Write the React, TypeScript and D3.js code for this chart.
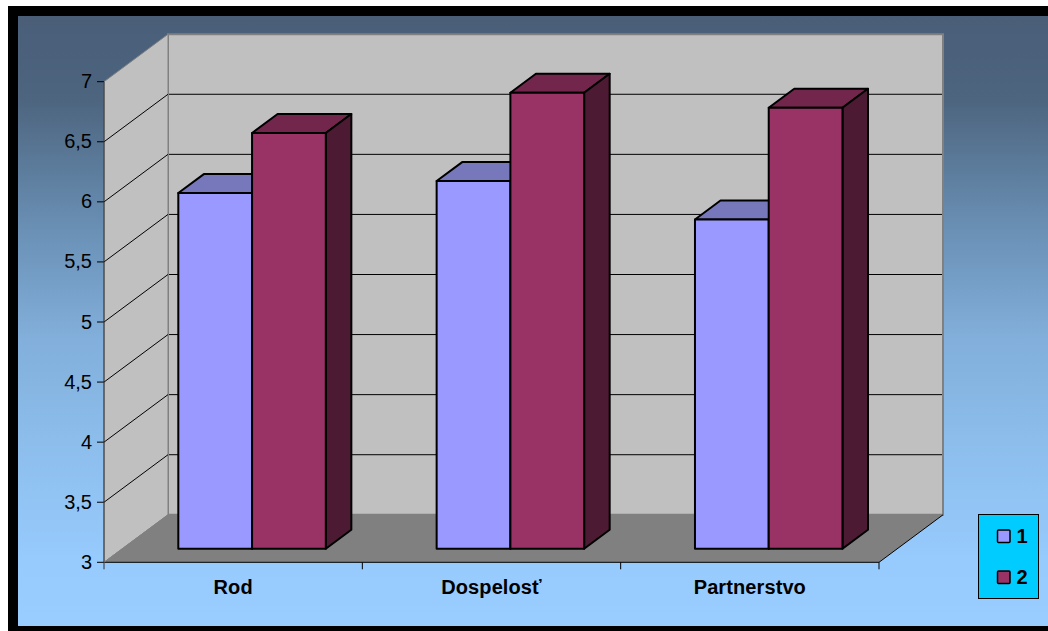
import React from "react";
import * as d3 from "d3";

const categories = ["Rod", "Dospelosť", "Partnerstvo"];
const seriesNames = ["1", "2"];
const series1 = [5.96, 6.06, 5.74];
const series2 = [6.46, 6.795, 6.67];
const yTicks = [3, 3.5, 4, 4.5, 5, 5.5, 6, 6.5, 7];
const tickLabels = ["3", "3,5", "4", "4,5", "5", "5,5", "6", "6,5", "7"];

const seriesColors = [
  { front: "#9999FF", top: "#7777BB", side: "#5A5A99" },
  { front: "#993366", top: "#72264C", side: "#4D1A33" },
];

const FONT = "'Liberation Sans', Arial, sans-serif";
const DX = 64;
const DY = -47.5;
const left = 104;
const right = 879;
const y = d3.scaleLinear().domain([3, 7]).range([562.3, 81.7]);
const x0 = d3.scaleBand().domain(categories).range([left, right]);
const x1 = d3.scaleBand().domain(seriesNames).range([0, 147.5]);
const barInset = 56;
const barF0 = 0.286;
const barF1 = 0.685;
const pts = (p: number[][]) => p.map((a) => a.join(",")).join(" ");
const proj = (px: number, v: number, f: number): number[] => [px + DX * f, y(v) + DY * f];

export default function App() {
  const wallBack = pts([proj(left, 7, 1), proj(right, 7, 1), proj(right, 3, 1), proj(left, 3, 1)]);
  const wallSide = pts([proj(left, 7, 0), proj(left, 7, 1), proj(left, 3, 1), proj(left, 3, 0)]);
  const floor = pts([proj(left, 3, 0), proj(left, 3, 1), proj(right, 3, 1), proj(right, 3, 0)]);
  const data = [series1, series2];
  const bars = categories.flatMap((c, ci) =>
    seriesNames.map((s, si) => {
      const a = (x0(c) as number) + barInset + (x1(s) as number);
      const b = a + x1.bandwidth();
      return { key: c + s, a, b, v: data[si][ci], col: seriesColors[si] };
    })
  );
  return (
    <svg
      width={1048}
      height={631}
      viewBox="0 0 1048 631"
      style={{ position: "absolute", left: 0, top: 0, display: "block" }}
      fontFamily={FONT}
    >
      <defs>
        <linearGradient id="bg" x1="0" y1="0" x2="0" y2="1">
          <stop offset="0" stopColor="#4A5E78" />
          <stop offset="0.138" stopColor="#4D657F" />
          <stop offset="0.35" stopColor="#6A90B5" />
          <stop offset="0.53" stopColor="#82AFDB" />
          <stop offset="0.695" stopColor="#8CBDEB" />
          <stop offset="0.89" stopColor="#97CAFD" />
          <stop offset="1" stopColor="#99CCFF" />
        </linearGradient>
      </defs>
      <rect x={0} y={0} width={1048} height={631} fill="#fff" />
      <rect x={8} y={6} width={1040} height={625} fill="#000" />
      <rect x={18} y={16} width={1030} height={610} fill="url(#bg)" />

      <polygon points={wallBack} fill="#C0C0C0" stroke="#808080" strokeWidth={2} />
      <polygon points={wallSide} fill="#C0C0C0" stroke="#808080" strokeWidth={1} />
      <polygon points={floor} fill="#808080" />

      {yTicks.map((t) => {
        const [ax, ay] = proj(left, t, 0);
        const [bx, by] = proj(left, t, 1);
        const [cx, cy] = proj(right, t, 1);
        return (
          <g key={t}>
            {t > 3 && t < 7 && (
              <>
                <line x1={ax} y1={ay} x2={bx} y2={by} stroke="#000" strokeWidth={1} />
                <line x1={bx + 1} y1={by} x2={cx - 1} y2={cy} stroke="#000" strokeWidth={1} />
              </>
            )}
            <line x1={left - 7} y1={ay} x2={left} y2={ay} stroke="#000" />
          </g>
        );
      })}

      <line x1={left} y1={y(7)} x2={left} y2={y(3) + 7} stroke="#333" strokeWidth={1} />
      <line x1={left} y1={y(3)} x2={right} y2={y(3)} stroke="#000" strokeWidth={1} />
      <line x1={right} y1={y(3)} x2={right + DX} y2={y(3) + DY} stroke="#000" strokeWidth={1} />
      <line x1={left} y1={y(3)} x2={left + DX} y2={y(3) + DY} stroke="#808080" strokeWidth={1} />
      {x0.domain().map((c) => (
        <line
          key={c}
          x1={(x0(c) as number) + x0.bandwidth()}
          x2={(x0(c) as number) + x0.bandwidth()}
          y1={y(3)}
          y2={y(3) + 7}
          stroke="#000"
        />
      ))}

      {bars.map((r) => (
        <g key={r.key} stroke="#000" strokeWidth={2} strokeLinejoin="round">
          <polygon
            fill={r.col.top}
            points={pts([proj(r.a, r.v, barF0), proj(r.a, r.v, barF1), proj(r.b, r.v, barF1), proj(r.b, r.v, barF0)])}
          />
          <polygon
            fill={r.col.side}
            points={pts([proj(r.b, r.v, barF0), proj(r.b, r.v, barF1), proj(r.b, 3, barF1), proj(r.b, 3, barF0)])}
          />
          <polygon
            fill={r.col.front}
            points={pts([proj(r.a, r.v, barF0), proj(r.b, r.v, barF0), proj(r.b, 3, barF0), proj(r.a, 3, barF0)])}
          />
        </g>
      ))}

      {yTicks.map((t, i) => (
        <text key={t} x={92} y={y(t) + 6.5} textAnchor="end" fontSize={20} fill="#000">
          {tickLabels[i]}
        </text>
      ))}

      {categories.map((c) => (
        <text
          key={c}
          x={(x0(c) as number) + x0.bandwidth() / 2}
          y={594}
          textAnchor="middle"
          fontSize={20}
          fontWeight="bold"
          fill="#000"
          letterSpacing={0.1}
        >
          {c}
        </text>
      ))}

      <rect x={978.5} y={514.5} width={60} height={84} fill="#00CCFF" stroke="#000" strokeWidth={1} />
      {seriesNames.map((s, i) => (
        <g key={s}>
          <rect
            x={997.5}
            y={530 + i * 41}
            width={12.5}
            height={12.5}
            rx={1}
            fill={seriesColors[i].front}
            stroke="#000"
            strokeWidth={1.5}
          />
          <text x={1016.5} y={542.5 + i * 41} fontSize={20} fontWeight="bold" fill="#000">
            {s}
          </text>
        </g>
      ))}
    </svg>
  );
}
